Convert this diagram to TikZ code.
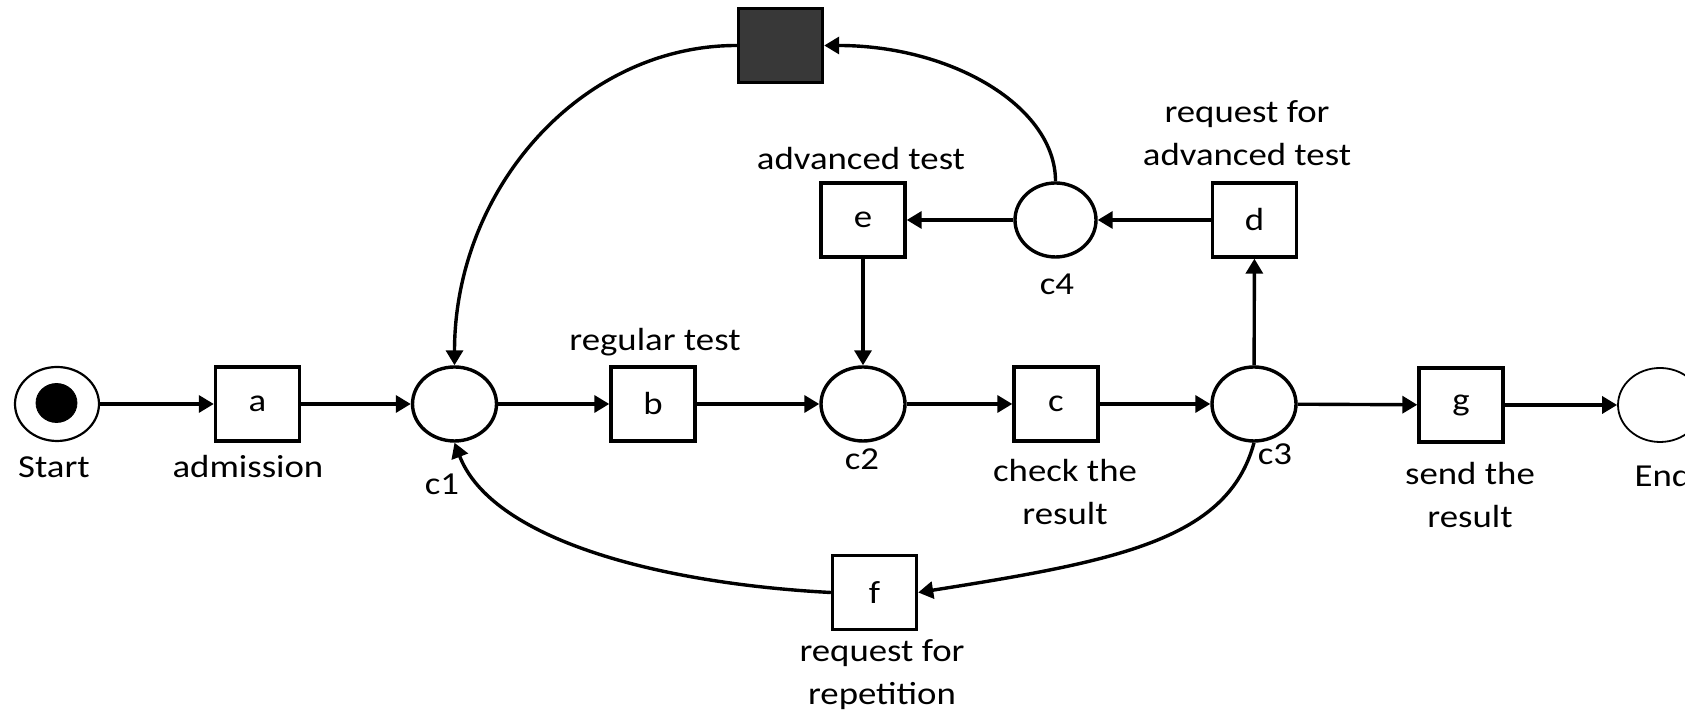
\documentclass[tikz,border=0pt]{standalone}
\usepackage{fontspec}
\setmainfont{Carlito}[FakeStretch=1.15]
\usetikzlibrary{arrows.meta,shapes.geometric}
\definecolor{darkbox}{HTML}{383838}
\begin{document}
\begin{tikzpicture}[x=0.5pt,y=0.5pt,
  every node/.style={font=\fontsize{16}{21.75}\selectfont},
  trans/.style={draw,line width=1.7pt,minimum width=42pt,minimum height=37pt,inner sep=0pt},
  place/.style={draw,ellipse,line width=1.7pt,minimum width=42pt,minimum height=37pt,inner sep=0pt},
  lbl/.style={inner sep=0pt,align=center,anchor=base},
  arc/.style={line width=1.7pt,-{Triangle[length=7.5pt,width=8.5pt]}}
]
\useasboundingbox (0,0) rectangle (1685,715);
% places
\node[place,line width=1.1pt] (start) at (57,311) {};
\node[draw,ellipse,fill=black,minimum width=20.5pt,minimum height=19.5pt,inner sep=0pt] (token) at (56.5,312) {};
\node[place] (c1) at (454.5,311) {};
\node[place] (c2) at (863,311) {};
\node[place] (c3) at (1254,311) {};
\node[place,line width=0.9pt] (end) at (1660,310) {};
\node[place,minimum width=40.5pt] (c4) at (1055.5,495) {};
% transitions
\node[trans] (a) at (257.5,311) {a};
\node[trans] (b) at (653,311) {b};
\node[trans] (c) at (1056,311) {c};
\node[trans] (g) at (1461,310) {g};
\node[trans] (e) at (863,495) {e};
\node[trans] (d) at (1254.5,495) {d};
\node[trans] (f) at (874.5,122.5) {f};
\node[trans,fill=darkbox] (tau) at (780.5,669.5) {};
% labels (base = baseline of the last line)
\node[lbl] (lstart) at (54,237) {Start};
\node[lbl] (ladm) at (248,237) {admission};
\node[lbl] (lc1) at (442,220) {c1};
\node[lbl] (lb) at (655,364) {regular test};
\node[lbl] (lc2) at (862,245) {c2};
\node[lbl] (lc) at (1065,190) {check the\\result};
\node[lbl] (lc3) at (1275,250) {c3};
\node[lbl] (lg) at (1470,187) {send the\\result};
\node[lbl] (lend) at (1663,228) {End};
\node[lbl] (le) at (861,545) {advanced test};
\node[lbl] (lc4) at (1057,420) {c4};
\node[lbl] (ld) at (1247,549) {request for\\advanced test};
\node[lbl] (lf) at (882,10) {request for\\repetition};
% arcs
\draw[arc] (start) -- (a);
\draw[arc] (a) -- (c1);
\draw[arc] (c1) -- (b);
\draw[arc] (b) -- (c2);
\draw[arc] (c2) -- (c);
\draw[arc] (c) -- (c3);
\draw[arc] (c3) -- (g);
\draw[arc] (g) -- (end);
\draw[arc] (c3) -- (d);
\draw[arc] (d) -- (c4);
\draw[arc] (c4) -- (e);
\draw[arc] (e) -- (c2);
\draw[arc] (c4.north) to[out=90,in=0,out looseness=0.71,in looseness=1.22] (tau.east);
\draw[arc] (tau.west) to[out=180,in=90,out looseness=0.94,in looseness=1.05] (c1.north);
\draw[arc] (f.west) to[out=177,in=-69,out looseness=1.1,in looseness=0.65] (c1.south);
\draw[arc] (c3.south) to[out=-105,in=9,out looseness=0.7,in looseness=1.4] (f.east);
\end{tikzpicture}
\end{document}
